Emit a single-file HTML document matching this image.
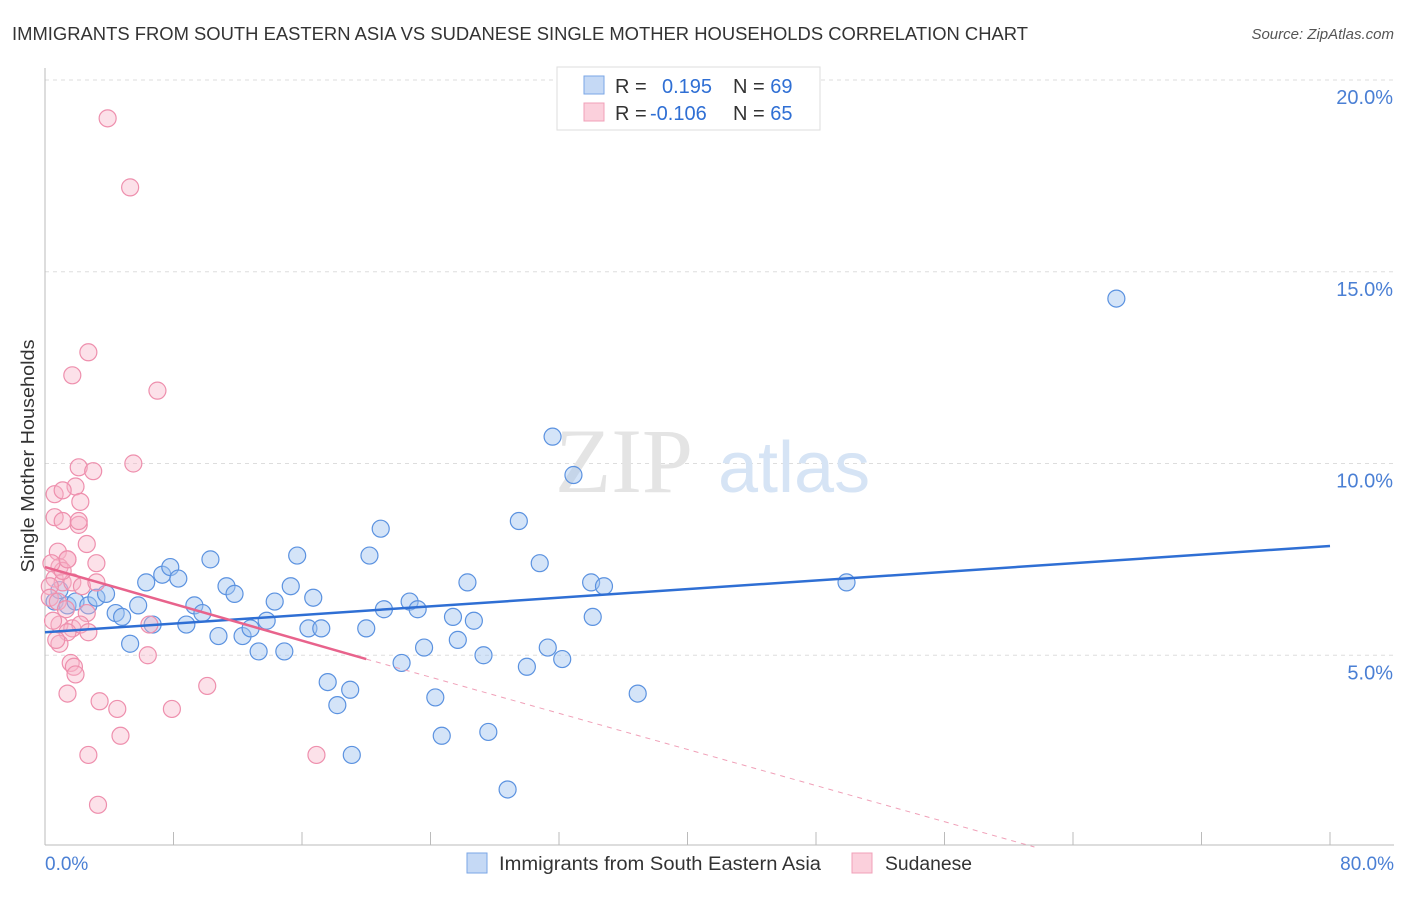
<!DOCTYPE html>
<html><head><meta charset="utf-8"><style>
body{margin:0;background:#fff;font-family:"Liberation Sans",sans-serif;}
</style></head><body>
<svg width="1406" height="892" xmlns="http://www.w3.org/2000/svg">
<text x="12" y="40" font-size="18" fill="#333" textLength="1016" lengthAdjust="spacingAndGlyphs">IMMIGRANTS FROM SOUTH EASTERN ASIA VS SUDANESE SINGLE MOTHER HOUSEHOLDS CORRELATION CHART</text>
<text x="1394" y="39" font-size="15" fill="#555" font-style="italic" text-anchor="end">Source: ZipAtlas.com</text>
<g id="grid"></g>
<text x="555" y="492" font-size="92" font-family="Liberation Serif,serif" fill="#e4e4e4">ZIP</text>
<text x="718" y="492" font-size="72" fill="#d6e4f5">atlas</text>
<line x1="45" y1="68" x2="45" y2="845" stroke="#bbb"/>
<line x1="45" y1="845" x2="1394" y2="845" stroke="#bbb"/>
<g id="ticks"></g>
<text x="34" y="456" font-size="18" fill="#333" transform="rotate(-90 34 456)" text-anchor="middle" textLength="233" lengthAdjust="spacingAndGlyphs">Single Mother Households</text>
<text x="45" y="870" font-size="19" fill="#4a7fd4">0.0%</text>
<text x="1394" y="870" font-size="19" fill="#4a7fd4" text-anchor="end">80.0%</text>
<g id="pts"></g>
<g id="lines"></g>
<g>
<rect x="557" y="67" width="263" height="63" fill="#fff" stroke="#ddd"/>
<rect x="584" y="76" width="20" height="18" fill="#c5d9f5" stroke="#7aa6e6"/>
<rect x="584" y="103" width="20" height="18" fill="#fbd0dc" stroke="#f0a0b8"/>
<text x="615" y="93" font-size="20" fill="#333">R = <tspan fill="#2f6fd4" x="662">0.195</tspan><tspan x="733">N = </tspan><tspan fill="#2f6fd4">69</tspan></text>
<text x="615" y="120" font-size="20" fill="#333">R = <tspan fill="#2f6fd4" x="650">-0.106</tspan><tspan x="733">N = </tspan><tspan fill="#2f6fd4">65</tspan></text>
</g>
<g>
<rect x="467" y="853" width="20" height="20" fill="#c5d9f5" stroke="#7aa6e6"/>
<text x="499" y="870" font-size="19" fill="#333" textLength="322" lengthAdjust="spacingAndGlyphs">Immigrants from South Eastern Asia</text>
<rect x="852" y="853" width="20" height="20" fill="#fbd0dc" stroke="#f0a0b8"/>
<text x="885" y="870" font-size="19" fill="#333" textLength="87" lengthAdjust="spacingAndGlyphs">Sudanese</text>
</g>
</svg>
<script>
const yTicks=[5,10,15,20];
const yTickLabels=["5.0%","10.0%","15.0%","20.0%"];
const blueX=[0.6,0.9,1.4,1.9,2.7,3.2,3.8,4.4,4.8,5.3,5.8,6.3,6.7,7.3,7.8,8.3,8.8,9.3,9.8,10.3,10.8,11.3,11.8,12.3,12.8,13.3,13.8,14.3,14.9,15.3,15.7,16.4,16.7,17.2,17.6,18.2,19.0,19.1,20.0,20.2,20.9,21.1,22.2,22.7,23.2,23.6,24.3,24.7,25.4,25.7,26.3,26.7,27.3,27.6,28.8,29.5,30.0,30.8,31.3,31.6,32.2,32.9,34.0,34.1,34.8,36.9,49.9,66.7];
const blueY=[6.4,6.7,6.3,6.4,6.3,6.5,6.6,6.1,6.0,5.3,6.3,6.9,5.8,7.1,7.3,7.0,5.8,6.3,6.1,7.5,5.5,6.8,6.6,5.5,5.7,5.1,5.9,6.4,5.1,6.8,7.6,5.7,6.5,5.7,4.3,3.7,4.1,2.4,5.7,7.6,8.3,6.2,4.8,6.4,6.2,5.2,3.9,2.9,6.0,5.4,6.9,5.9,5.0,3.0,1.5,8.5,4.7,7.4,5.2,10.7,4.9,9.7,6.9,6.0,6.8,4.0,6.9,14.3];
const pinkX=[3.9,5.3,2.7,1.7,7.0,2.1,3.0,5.5,0.6,1.9,1.1,2.2,0.6,1.1,2.1,2.1,2.6,3.2,0.8,1.4,0.9,0.6,1.1,0.3,1.7,2.3,3.2,0.3,0.8,1.3,2.6,0.9,1.7,2.2,2.7,1.4,0.9,0.7,1.6,1.8,1.9,1.4,3.4,4.5,4.7,2.7,3.3,6.4,6.5,7.9,10.1,16.9,0.5,1.1,1.4,0.4];
const pinkY=[19.0,17.2,12.9,12.3,11.9,9.9,9.8,10.0,9.2,9.4,9.3,9.0,8.6,8.5,8.4,8.5,7.9,7.4,7.7,7.5,7.3,7.0,6.9,6.8,6.9,6.8,6.9,6.5,6.4,6.2,6.1,5.8,5.7,5.8,5.6,5.6,5.3,5.4,4.8,4.7,4.5,4.0,3.8,3.6,2.9,2.4,1.1,5.0,5.8,3.6,4.2,2.4,5.9,7.2,7.5,7.4];
const NS="http://www.w3.org/2000/svg";
const X=v=>45+v/80*1285, Y=v=>847-v*38.35;
function mk(t,a,p){const e=document.createElementNS(NS,t);for(const k in a)e.setAttribute(k,a[k]);document.getElementById(p).appendChild(e);return e;}
yTicks.forEach((t,i)=>{
 const g=mk('line',{x1:45,x2:1394,y1:Y(t),y2:Y(t),stroke:'#ddd','stroke-dasharray':'4,4'},'grid');
 
 
 const l=mk('text',{x:1393,y:Y(t)+24,'font-size':20,fill:'#4a7fd4','text-anchor':'end'},'ticks');
 l.textContent=yTickLabels[i];
 
 
});
for(let i=0;i<=10;i++){
 const t=mk('line',{x1:X(i*8),x2:X(i*8),y1:832,y2:845,stroke:'#bbb'},'ticks');
 
 
}
blueX.forEach((x,i)=>{
 const c=mk('circle',{cx:X(x),cy:Y(blueY[i]),r:8.5,fill:'rgba(160,195,240,0.45)',stroke:'#5b92e0','stroke-width':1.2},'pts');
 
 
});
pinkX.forEach((x,i)=>{
 const c=mk('circle',{cx:X(x),cy:Y(pinkY[i]),r:8.5,fill:'rgba(248,180,200,0.4)',stroke:'#ee8fad','stroke-width':1.2},'pts');
 
 
});
const bl=mk('line',{x1:X(0),y1:Y(5.6),x2:X(80),y2:Y(7.85),stroke:'#2f6fd4','stroke-width':2.5},'lines');


const pl=mk('line',{x1:X(0),y1:Y(7.3),x2:X(20),y2:Y(4.9),stroke:'#e8638c','stroke-width':2.5},'lines');


const pd=mk('line',{x1:X(20),y1:Y(4.9),x2:X(61.6),y2:Y(0),stroke:'#f0a0b8','stroke-width':1,'stroke-dasharray':'5,5'},'lines');


</script>
</body></html>
